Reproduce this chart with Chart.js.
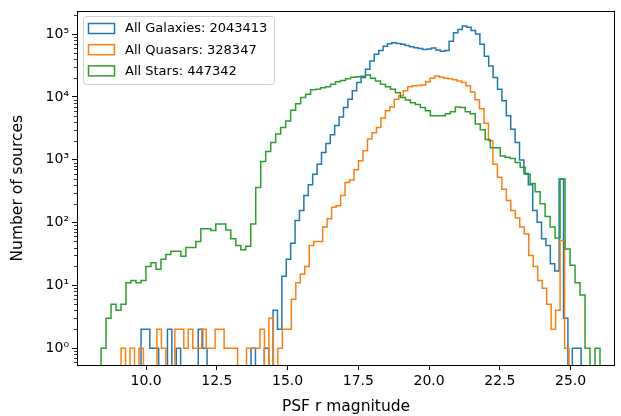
<!DOCTYPE html>
<html>
<head>
<meta charset="utf-8">
<script src="https://cdn.jsdelivr.net/npm/chart.js@4.4.0/dist/chart.umd.min.js"></script>
<style>
  html, body { margin: 0; padding: 0; background: #fff; }
  #wrap { width: 621px; height: 416px; }
</style>
</head>
<body>
<div id="wrap"><canvas id="histChart"></canvas></div>
<script>
'use strict'

// legend labels + colours (matplotlib tab10)
const seriesNames = ['All Galaxies: 2043413', 'All Quasars: 328347', 'All Stars: 447342'];
const seriesColors = ['#1f77b4', '#ff7f0e', '#2ca02c'];

// each histogram: first bin edge, bin width, 100 counts
const galaxyStart = 9.823;
const galaxyWidth = 0.1555;
const galaxyCounts = [
  2, 2, 1, 1, 0, 0, 2, 0, 1, 0,
  0, 0, 0, 2, 1, 0, 0, 0, 0, 0,
  0, 0, 0, 0, 0, 1, 0, 0, 1, 0,
  4, 2, 14, 26, 47, 108, 155, 270, 400, 590,
  850, 1310, 1820, 2500, 3500, 4800, 6800, 9200, 12500, 16900,
  20300, 27500, 37300, 47600, 55000, 64000, 70000, 72800, 71000, 69000,
  66000, 63000, 60700, 59000, 57000, 58000, 60000, 56000, 53500, 55000,
  77000, 105000, 118000, 135000, 129000, 114000, 100000, 69000, 44600, 31000,
  20300, 13300, 8700, 5000, 3050, 1880, 990, 605, 400, 155,
  101, 55, 43, 22, 17, 495, 3, 0, 1, 1
];

const quasarStart = 9.117;
const quasarWidth = 0.1583;
const quasarCounts = [
  1, 0, 1, 0, 1, 0, 0, 0, 2, 1,
  0, 0, 2, 2, 1, 2, 1, 1, 2, 1,
  1, 2, 2, 1, 1, 1, 0, 0, 1, 1,
  1, 2, 0, 3, 0, 1, 2, 2, 6, 11,
  15, 20, 43, 50, 50, 85, 115, 175, 185, 270,
  435, 475, 690, 960, 1390, 2140, 2700, 3250, 4600, 6000,
  6900, 9200, 10400, 12500, 14500, 15000, 15200, 15500, 17500, 19800,
  21500, 20700, 19800, 19500, 18800, 18000, 17000, 15000, 12000, 9000,
  6500, 3800, 2000, 850, 525, 340, 225, 155, 118, 85,
  66, 30, 20, 12, 9, 5, 2, 4, 52, 1
];

const starStart = 8.41;
const starWidth = 0.1763;
const starCounts = [
  1, 3, 5, 4, 5, 11, 12, 11, 12, 20,
  23, 18, 26, 31, 35, 35, 29, 40, 40, 50,
  80, 80, 75, 95, 95, 76, 55, 43, 37, 42,
  95, 360, 940, 1350, 1880, 2560, 3250, 4150, 6150, 7800,
  9800, 11000, 13000, 13300, 14000, 14500, 15900, 17500, 18300, 19500,
  20500, 21000, 21300, 22400, 19800, 17900, 15900, 14500, 13300, 11700,
  9800, 8900, 8100, 7600, 6800, 6000, 5000, 5000, 5000, 5400,
  5800, 6900, 6800, 5800, 5400, 3700, 3000, 2100, 1550, 1550,
  1150, 1100, 1050, 900, 760, 590, 420, 310, 200, 125,
  85, 57, 495, 38, 21, 11, 7, 1, 0, 1
];

const xTicks = [10, 12.5, 15, 17.5, 20, 22.5, 25];
const yTicks = [1, 10, 100, 1000, 10000, 100000];

// empty bins go below the axis so the step drops to the bottom
const FLOOR = 0.1;
function stepPoints(start, width, counts) {
  let pts = [{x: start, y: FLOOR}];
  counts.forEach((c, i) => {
    pts.push({x: start + i * width, y: c > 0 ? c : FLOOR});
  });
  pts.push({x: start + counts.length * width, y: FLOOR});
  return pts;
}

const SUP = ['\u2070', '\u00b9', '\u00b2', '\u00b3', '\u2074', '\u2075'];
const FONT = 'DejaVu Sans';

function makeSet(i, pts, order) {
  return {
    label: seriesNames[i],
    data: pts,
    borderColor: seriesColors[i],
    backgroundColor: seriesColors[i],
    borderWidth: 1.5,
    pointRadius: 0,
    fill: false,
    stepped: true,
    tension: 0,
    borderJoinStyle: 'miter',
    order: order
  };
}

// top/right spines + y minor ticks
const framePlugin = {
  id: 'frame',
  afterDatasetsDraw(chart) {
    const {ctx, chartArea: a, scales} = chart;
    const y = scales.y;
    ctx.save();
    ctx.strokeStyle = '#000';
    ctx.lineWidth = 1;
    ctx.strokeRect(Math.round(a.left) + 0.5, Math.round(a.top) + 0.5,
      Math.round(a.right - a.left) - 1, Math.round(a.bottom - a.top));
    ctx.lineWidth = 0.8;
    ctx.beginPath();
    for (let e = -1; e <= 5; e++) {
      for (let m = 2; m <= 9; m++) {
        let v = m * Math.pow(10, e);
        if (v < y.min || v > y.max) continue;
        let py = Math.round(y.getPixelForValue(v)) + 0.5;
        ctx.moveTo(a.left, py);
        ctx.lineTo(a.left - 3, py);
      }
    }
    ctx.stroke();
    ctx.restore();
  }
};

// matplotlib style legend in the upper left corner
const legendPlugin = {
  id: 'mplLegend',
  afterDraw(chart) {
    const ctx = chart.ctx;
    const bx = 83.5, by = 16.5, bw = 191, bh = 68, r = 3;
    ctx.save();
    ctx.beginPath();
    ctx.moveTo(bx + r, by);
    ctx.arcTo(bx + bw, by, bx + bw, by + bh, r);
    ctx.arcTo(bx + bw, by + bh, bx, by + bh, r);
    ctx.arcTo(bx, by + bh, bx, by, r);
    ctx.arcTo(bx, by, bx + bw, by, r);
    ctx.closePath();
    ctx.fillStyle = 'rgba(255,255,255,0.8)';
    ctx.fill();
    ctx.strokeStyle = '#d0d0d0';
    ctx.lineWidth = 1;
    ctx.stroke();
    ctx.font = '13px "' + FONT + '"';
    ctx.textBaseline = 'middle';
    ctx.fillStyle = '#000';
    for (let i = 0; i < seriesNames.length; i++) {
      let cy = 28.5 + i * 21.2;
      ctx.strokeStyle = seriesColors[i];
      ctx.lineWidth = 1.5;
      ctx.strokeRect(88.5, cy - 5, 26, 10);
      ctx.fillText(seriesNames[i], 125, cy + 0.5);
    }
    ctx.restore();
  }
};

let myChart = new Chart(document.getElementById('histChart'), {
  type: 'line',
  data: {
    datasets: [
      makeSet(0, stepPoints(galaxyStart, galaxyWidth, galaxyCounts), 3),
      makeSet(1, stepPoints(quasarStart, quasarWidth, quasarCounts), 2),
      makeSet(2, stepPoints(starStart, starWidth, starCounts), 1)
    ]
  },
  options: {
    responsive: true,
    maintainAspectRatio: false,
    animation: false,
    devicePixelRatio: 1,
    layout: { padding: { left: 0, top: 10, right: 6, bottom: 0 } },
    plugins: { legend: { display: false }, tooltip: { enabled: false } },
    scales: {
      x: {
        type: 'linear',
        min: 7.56,
        max: 26.57,
        afterBuildTicks: s => { s.ticks = xTicks.map(v => ({value: v})); },
        afterFit: s => { s.height = 51; },
        ticks: {
          autoSkip: false, maxRotation: 0, padding: 3, color: '#000',
          font: { family: FONT, size: 14 },
          callback: v => v.toFixed(1)
        },
        grid: { drawOnChartArea: false, tickLength: 5, tickColor: '#000', tickWidth: 1 },
        border: { display: false },
        title: {
          display: true, text: 'PSF r magnitude', color: '#000',
          font: { family: FONT, size: 15.5 }, padding: { top: 0, bottom: 0 }
        }
      },
      y: {
        type: 'logarithmic',
        min: 0.54,
        max: 230000,
        afterBuildTicks: s => { s.ticks = yTicks.map(v => ({value: v})); },
        afterFit: s => { s.width = 77; },
        ticks: {
          autoSkip: false, padding: 3, color: '#000',
          font: { family: FONT, size: 14 },
          callback: v => '10' + SUP[Math.round(Math.log10(v))]
        },
        grid: { drawOnChartArea: false, tickLength: 5, tickColor: '#000', tickWidth: 1 },
        border: { display: false },
        title: {
          display: true, text: 'Number of sources', color: '#000',
          font: { family: FONT, size: 15.5 }, padding: { top: 9, bottom: 0 }
        }
      }
    }
  },
  plugins: [framePlugin, legendPlugin]
});
</script>
</body>
</html>
